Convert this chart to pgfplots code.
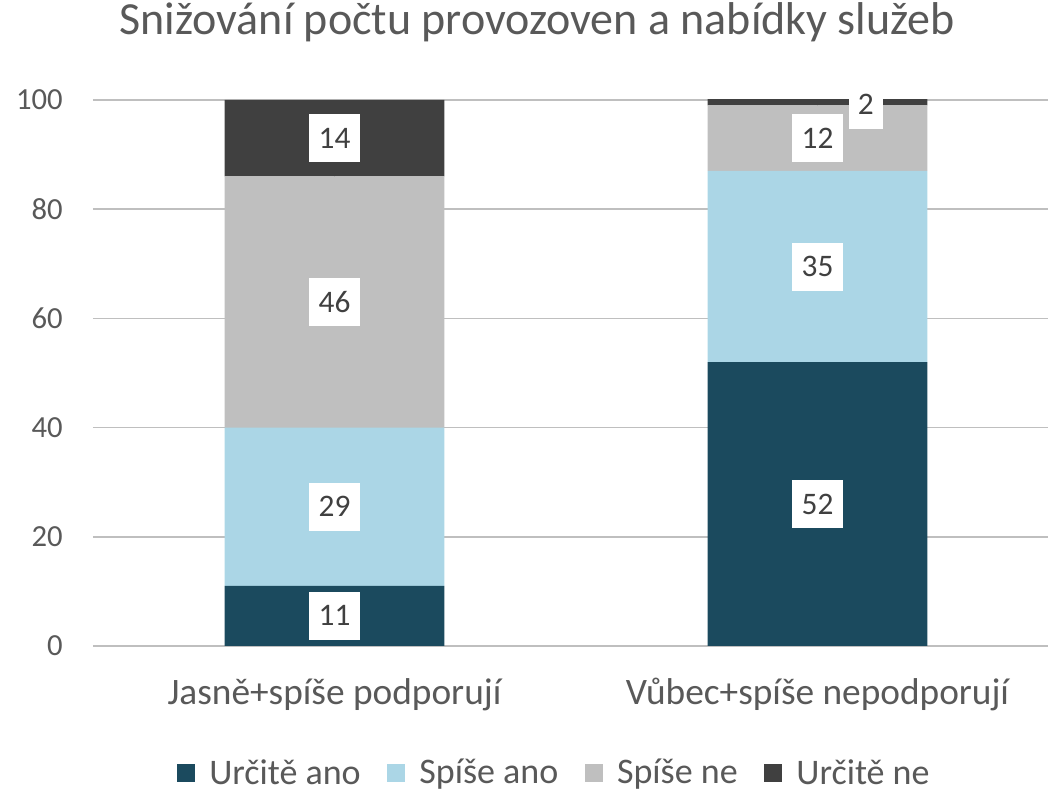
\documentclass[border=0pt]{standalone}
\usepackage{pgfplots}
\pgfplotsset{compat=1.18}
\usepackage{fontspec}
\setmainfont{Carlito}
\definecolor{txt}{HTML}{595959}
\definecolor{labtxt}{HTML}{404040}
\definecolor{grid}{HTML}{D9D9D9}
\definecolor{cA}{HTML}{1B4A5E}
\definecolor{cB}{HTML}{ABD6E6}
\definecolor{cC}{HTML}{BFBFBF}
\definecolor{cD}{HTML}{404040}
\begin{document}
\begin{tikzpicture}
\useasboundingbox (-69.75pt,-108.75pt) rectangle (716.25pt,484.5pt);
\begin{axis}[
  scale only axis,
  width=724.5pt, height=409.5pt,
  ybar stacked, bar width=0.455,
  xmin=-0.5, xmax=1.5, ymin=0, ymax=100,
  xtick={0,1}, xticklabels={Jasně+spíše podporují, Vůbec+spíše nepodporují},
  ytick={0,20,40,60,80,100},
  axis line style={draw=none},
  major tick style={draw=none},
  ymajorgrids, grid style={grid, line width=1.1pt},
  /pgf/number format/assume math mode=true,
  xticklabel style={font=\fontsize{28}{31}\selectfont, text=txt, anchor=base, yshift=-44pt},
  yticklabel style={font=\fontsize{23}{26}\selectfont, text=txt, anchor=east, inner sep=0pt, xshift=-22.5pt},
  title={Snižování počtu provozoven a nabídky služeb},
  title style={font=\fontsize{34.5}{38}\selectfont, text=txt, at={(rel axis cs:0.46,1)}, anchor=base, yshift=42.75pt},
  legend columns=4,
  legend style={draw=none, at={(rel axis cs:0.478,0)}, anchor=center, yshift=-95pt,
    font=\fontsize{27}{30}\selectfont, text=txt,
    /tikz/every even column/.append style={column sep=18pt},
    nodes={inner sep=2pt}},
  legend image code/.code={\fill[#1, draw=none] (0pt,-6.75pt) rectangle (13.5pt,6.75pt);
    \path[draw=none, fill=none] (0pt,-1pt) rectangle (22pt,1pt);},
]
\addplot[fill=cA, draw=none] coordinates {(0,11) (1,52)};
\addplot[fill=cB, draw=none] coordinates {(0,29) (1,35)};
\addplot[fill=cC, draw=none] coordinates {(0,46) (1,12)};
\addplot[fill=cD, draw=none] coordinates {(0,14) (1,2)};
\legend{Určitě ano, Spíše ano, Spíše ne, Určitě ne}
\end{axis}
\begin{axis}[
  scale only axis,
  width=724.5pt, height=409.5pt,
  xmin=-0.5, xmax=1.5, ymin=0, ymax=100,
  hide axis, clip=false,
]
\addplot[draw=none, mark=none, nodes near coords, point meta=explicit symbolic,
  every node near coord/.style={anchor=center, fill=white, text=labtxt,
    font=\fontsize{23.5}{26}\selectfont, inner xsep=7pt, inner ysep=10.5pt,
    text height=15pt, text depth=0pt}]
  coordinates {(0,5.5)[11] (0,25.5)[29] (0,63)[46] (0,93)[14]
               (1,26)[52] (1,69.5)[35] (1,93)[12] (1.1,99.1)[2]};
\end{axis}
\end{tikzpicture}
\end{document}
